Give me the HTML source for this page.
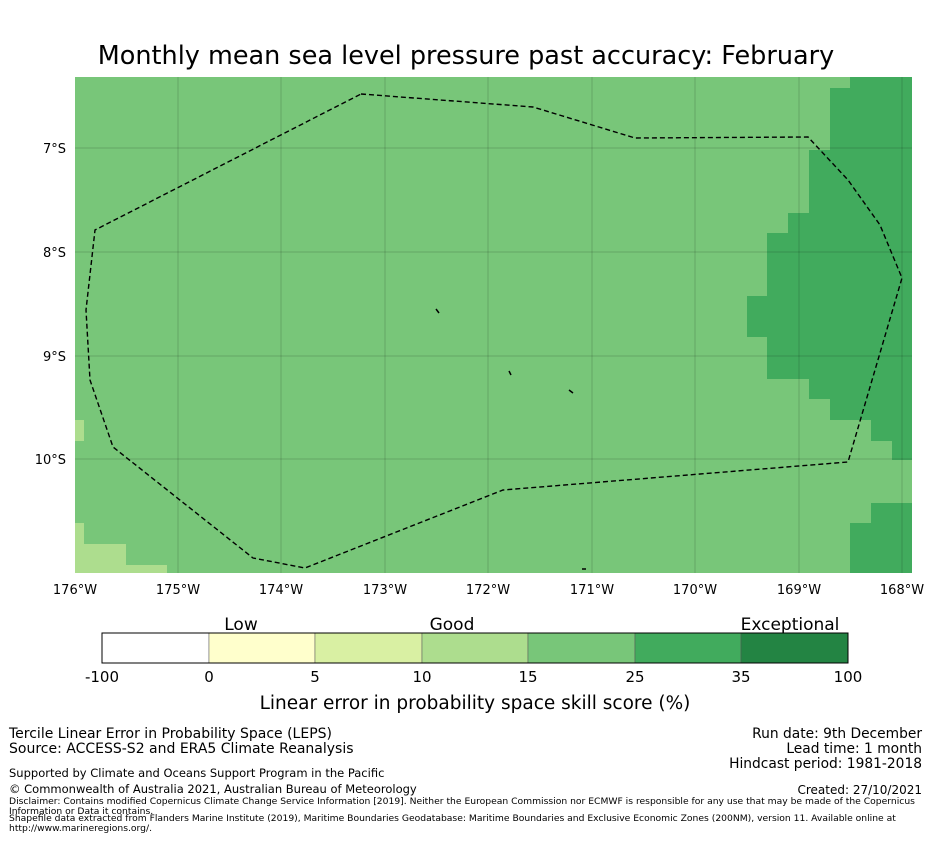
<!DOCTYPE html>
<html><head><meta charset="utf-8"><style>
body{margin:0;background:#fff;width:931px;height:839px;overflow:hidden;font-family:"Liberation Sans","DejaVu Sans",sans-serif}
svg text{font-family:"DejaVu Sans","Liberation Sans",sans-serif}
</style></head><body>
<svg width="931" height="839" xmlns="http://www.w3.org/2000/svg">
<text x="466" y="64" text-anchor="middle" font-size="25.5">Monthly mean sea level pressure past accuracy: February</text>
<g>
<rect x="75" y="77" width="837" height="496" fill="#78c679"/>
<g fill="#41ab5d">
<rect x="850" y="77" width="62" height="11"/><rect x="830" y="88" width="82" height="62"/>
<rect x="809" y="150" width="103" height="63"/><rect x="788" y="213" width="124" height="20"/>
<rect x="767" y="233" width="145" height="63"/><rect x="747" y="296" width="165" height="41"/>
<rect x="767" y="337" width="145" height="42"/><rect x="809" y="379" width="103" height="20"/>
<rect x="830" y="399" width="82" height="21"/><rect x="871" y="420" width="41" height="21"/>
<rect x="892" y="441" width="20" height="19"/><rect x="871" y="503" width="41" height="20"/>
<rect x="850" y="523" width="62" height="50"/>
</g>
<g fill="#addd8e">
<rect x="75" y="420" width="9" height="21"/><rect x="75" y="523" width="9" height="21"/>
<rect x="75" y="544" width="51" height="21"/><rect x="75" y="565" width="92" height="8"/>
</g>
<g stroke="#000" stroke-opacity="0.16" stroke-width="1">
<line x1="178" y1="77" x2="178" y2="573"/><line x1="281" y1="77" x2="281" y2="573"/>
<line x1="385" y1="77" x2="385" y2="573"/><line x1="488" y1="77" x2="488" y2="573"/>
<line x1="592" y1="77" x2="592" y2="573"/><line x1="695" y1="77" x2="695" y2="573"/>
<line x1="799" y1="77" x2="799" y2="573"/><line x1="902" y1="77" x2="902" y2="573"/>
<line x1="75" y1="148" x2="912" y2="148"/><line x1="75" y1="252" x2="912" y2="252"/>
<line x1="75" y1="356" x2="912" y2="356"/><line x1="75" y1="459" x2="912" y2="459"/>
</g>
<polygon points="361,94 533,107 635,138 808,137 848,180 880,225 902,278 848,462 503,490 305,568 253,558 113,447 90,380 86,310 95,230" fill="none" stroke="#000" stroke-width="1.4" stroke-dasharray="5,3"/>
<g stroke="#000" stroke-width="1.5">
<line x1="436" y1="309" x2="439" y2="313"/><line x1="509" y1="371" x2="511" y2="375"/>
<line x1="569" y1="390" x2="573" y2="393"/><line x1="582" y1="569" x2="586" y2="569"/>
</g>
</g>
<g font-size="13">
<text x="66" y="153" text-anchor="end">7°S</text><text x="66" y="257" text-anchor="end">8°S</text>
<text x="66" y="361" text-anchor="end">9°S</text><text x="66" y="464" text-anchor="end">10°S</text>
</g>
<g font-size="13" text-anchor="middle">
<text x="75" y="594">176°W</text><text x="178" y="594">175°W</text><text x="281" y="594">174°W</text>
<text x="385" y="594">173°W</text><text x="488" y="594">172°W</text><text x="592" y="594">171°W</text>
<text x="695" y="594">170°W</text><text x="799" y="594">169°W</text><text x="902" y="594">168°W</text>
</g>
<g stroke="#555" stroke-width="0.5">
<rect x="102" y="633" width="107" height="30" fill="#ffffff"/>
<rect x="209" y="633" width="106" height="30" fill="#ffffcc"/>
<rect x="315" y="633" width="107" height="30" fill="#d9f0a3"/>
<rect x="422" y="633" width="106" height="30" fill="#addd8e"/>
<rect x="528" y="633" width="107" height="30" fill="#78c679"/>
<rect x="635" y="633" width="106" height="30" fill="#41ab5d"/>
<rect x="741" y="633" width="107" height="30" fill="#238443"/>
<rect x="102" y="633" width="746" height="30" fill="none" stroke="#000" stroke-width="1"/>
</g>
<g font-size="17" text-anchor="middle">
<text x="241" y="630">Low</text><text x="452" y="630">Good</text><text x="790" y="630">Exceptional</text>
</g>
<g font-size="15" text-anchor="middle">
<text x="102" y="682">-100</text><text x="209" y="682">0</text><text x="315" y="682">5</text>
<text x="422" y="682">10</text><text x="528" y="682">15</text><text x="635" y="682">25</text>
<text x="741" y="682">35</text><text x="848" y="682">100</text>
</g>
<text x="475" y="709" text-anchor="middle" font-size="18.5">Linear error in probability space skill score (%)</text>
<g font-size="14">
<text x="9" y="738">Tercile Linear Error in Probability Space (LEPS)</text>
<text x="9" y="753">Source: ACCESS-S2 and ERA5 Climate Reanalysis</text>
<text x="9" y="777" font-size="11.5">Supported by Climate and Oceans Support Program in the Pacific</text>
<text x="9" y="793" font-size="11.5">© Commonwealth of Australia 2021, Australian Bureau of Meteorology</text>
</g>
<g font-size="13.8" text-anchor="end">
<text x="922" y="738">Run date: 9th December</text>
<text x="922" y="753">Lead time: 1 month</text>
<text x="922" y="768">Hindcast period: 1981-2018</text>
<text x="922" y="794" font-size="12">Created: 27/10/2021</text>
</g>
<g font-size="9.2">
<text x="9" y="804">Disclaimer: Contains modified Copernicus Climate Change Service Information [2019]. Neither the European Commission nor ECMWF is responsible for any use that may be made of the Copernicus</text>
<text x="9" y="814">Information or Data it contains.</text>
<text x="9" y="821">Shapefile data extracted from Flanders Marine Institute (2019), Maritime Boundaries Geodatabase: Maritime Boundaries and Exclusive Economic Zones (200NM), version 11. Available online at</text>
<text x="9" y="831">http://www.marineregions.org/.</text>
</g>
</svg>
</body></html>
